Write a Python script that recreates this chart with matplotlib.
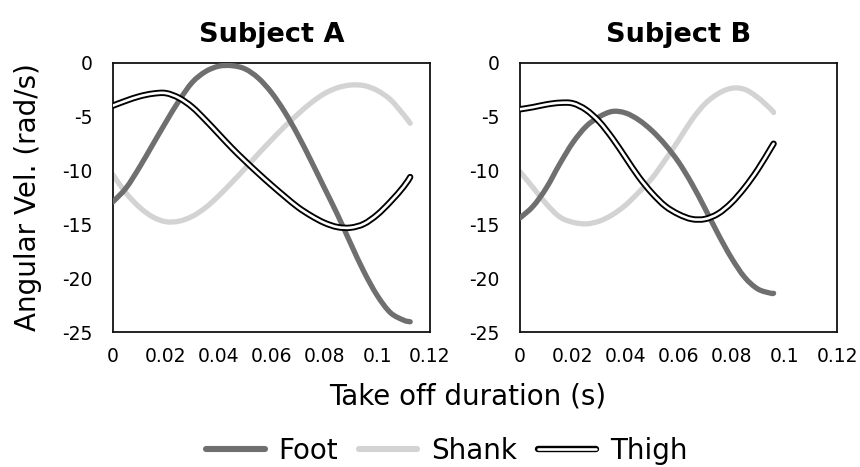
import matplotlib
matplotlib.use("Agg")
import matplotlib.pyplot as plt
from matplotlib.lines import Line2D
from matplotlib.path import Path
from matplotlib.patches import PathPatch
from matplotlib.legend_handler import HandlerBase

# ---- data: angular velocity (rad/s) over take-off duration (s) ----
time_a = [0, 0.005, 0.01, 0.015, 0.02, 0.025, 0.03, 0.035, 0.04, 0.045, 0.05,
          0.055, 0.06, 0.065, 0.07, 0.075, 0.08, 0.085, 0.09, 0.095, 0.10,
          0.105, 0.11, 0.1125]
foot_a = [-12.9, -11.6, -9.7, -7.6, -5.5, -3.5, -1.8, -0.8, -0.3, -0.25, -0.55,
          -1.4, -2.75, -4.55, -6.7, -9.1, -11.6, -14.1, -16.8, -19.4, -21.6,
          -23.2, -23.9, -24.05]
shank_a = [-10.4, -12.1, -13.4, -14.3, -14.75, -14.7, -14.25, -13.45, -12.35, -11.1, -9.8,
           -8.45, -7.15, -5.9, -4.75, -3.7, -2.85, -2.3, -2.05, -2.1, -2.55,
           -3.4, -4.8, -5.6]
thigh_a = [-3.96, -3.5, -3.1, -2.85, -2.8, -3.25, -4.1, -5.3, -6.6, -7.9, -9.1,
           -10.25, -11.35, -12.4, -13.4, -14.2, -14.85, -15.25, -15.3, -14.95, -14.1,
           -12.9, -11.5, -10.6]

time_b = [0, 0.005, 0.01, 0.015, 0.02, 0.025, 0.03, 0.035, 0.04, 0.045, 0.05,
          0.055, 0.06, 0.065, 0.07, 0.075, 0.08, 0.085, 0.09, 0.095, 0.096]
foot_b = [-14.4, -13.3, -11.6, -9.4, -7.4, -5.9, -5.0, -4.5, -4.65, -5.3, -6.3,
          -7.6, -9.2, -11.2, -13.5, -15.9, -18.1, -19.9, -21.0, -21.4, -21.4]
shank_b = [-10.1, -11.6, -13.1, -14.3, -14.8, -14.95, -14.7, -14.1, -13.2, -12.0, -10.7,
           -9.0, -7.2, -5.3, -3.8, -2.85, -2.35, -2.45, -3.2, -4.3, -4.6]
thigh_b = [-4.3, -4.1, -3.85, -3.7, -3.75, -4.35, -5.45, -7.0, -8.8, -10.6, -12.1,
           -13.3, -14.05, -14.5, -14.5, -14.0, -13.0, -11.6, -9.9, -7.9, -7.5]

subjects = ["Subject A", "Subject B"]
series_names = ["Foot", "Shank", "Thigh"]
x_ticks = [0, 0.02, 0.04, 0.06, 0.08, 0.1, 0.12]
x_tick_labels = ["0", "0.02", "0.04", "0.06", "0.08", "0.1", "0.12"]
y_ticks = [0, -5, -10, -15, -20, -25]

FOOT_C = "#6f6f6f"
SHANK_C = "#d3d3d3"

plt.rcParams["font.family"] = ["DejaVu Sans"]


def smooth_path(xs, ys):
    """Smoothed-line path (cubic Bezier segments through every data point)."""
    pts = list(zip(xs, ys))
    n = len(pts)
    verts = [pts[0]]
    codes = [Path.MOVETO]
    for i in range(n - 1):
        p0 = pts[i - 1] if i > 0 else pts[i]
        p1 = pts[i]
        p2 = pts[i + 1]
        p3 = pts[i + 2] if i + 2 < n else pts[i + 1]
        c1 = (p1[0] + (p2[0] - p0[0]) / 6, p1[1] + (p2[1] - p0[1]) / 6)
        c2 = (p2[0] - (p3[0] - p1[0]) / 6, p2[1] - (p3[1] - p1[1]) / 6)
        verts += [c1, c2, p2]
        codes += [Path.CURVE4] * 3
    return Path(verts, codes)


def add_curve(ax, xs, ys, color, lw, z):
    patch = PathPatch(smooth_path(xs, ys), facecolor="none", edgecolor=color,
                      lw=lw, capstyle="round", joinstyle="round", zorder=z,
                      transform=ax.transData)
    ax.add_patch(patch)


fig = plt.figure(figsize=(8.6, 4.67), dpi=100)
ax_a = fig.add_axes([113 / 860, 1 - 332 / 467, 317 / 860, 269 / 467])
ax_b = fig.add_axes([520 / 860, 1 - 332 / 467, 317 / 860, 269 / 467])


def draw_panel(ax, t, foot, shank, thigh, title):
    add_curve(ax, t, shank, SHANK_C, 3.8, 2)
    add_curve(ax, t, foot, FOOT_C, 3.8, 3)
    add_curve(ax, t, thigh, "black", 4.6, 4)
    add_curve(ax, t, thigh, "white", 1.9, 5)
    ax.set_xlim(0, 0.12)
    ax.set_ylim(-25, 0)
    ax.set_xticks(x_ticks)
    ax.set_xticklabels(x_tick_labels)
    ax.set_yticks(y_ticks)
    ax.set_yticklabels([str(v) for v in y_ticks])
    ax.tick_params(length=0, labelsize=13.5, pad=15)
    ax.tick_params(axis="x", pad=11)
    for s in ax.spines.values():
        s.set_linewidth(1.3)
        s.set_color("#111111")
    ax.set_title(title, fontsize=19.5, fontweight="bold", pad=15)


draw_panel(ax_a, time_a, foot_a, shank_a, thigh_a, subjects[0])
draw_panel(ax_b, time_b, foot_b, shank_b, thigh_b, subjects[1])

fig.text(28 / 860, 1 - 197 / 467, "Angular Vel. (rad/s)", rotation=90,
         ha="center", va="center", fontsize=20)
fig.text(468 / 860, 1 - 397 / 467, "Take off duration (s)",
         ha="center", va="center", fontsize=20)


class DoubleLineHandler(HandlerBase):
    def create_artists(self, legend, orig_handle, xdescent, ydescent,
                       width, height, fontsize, trans):
        y = height / 2 - ydescent
        outer = Line2D([0, width], [y, y], color="black", lw=4.6,
                       solid_capstyle="round", transform=trans)
        inner = Line2D([0, width], [y, y], color="white", lw=1.9,
                       solid_capstyle="round", transform=trans)
        return [outer, inner]


handles = [
    Line2D([], [], color=FOOT_C, lw=4.4, solid_capstyle="round"),
    Line2D([], [], color=SHANK_C, lw=4.4, solid_capstyle="round"),
    Line2D([], [], color="black"),
]
fig.legend(handles, series_names, loc="center", ncol=3,
           bbox_to_anchor=(447 / 860, 1 - 451 / 467), frameon=False,
           fontsize=20, handlelength=2.1, handletextpad=0.5, columnspacing=0.75,
           borderpad=0, handler_map={handles[2]: DoubleLineHandler()})

fig.savefig("out.png", dpi=100)
